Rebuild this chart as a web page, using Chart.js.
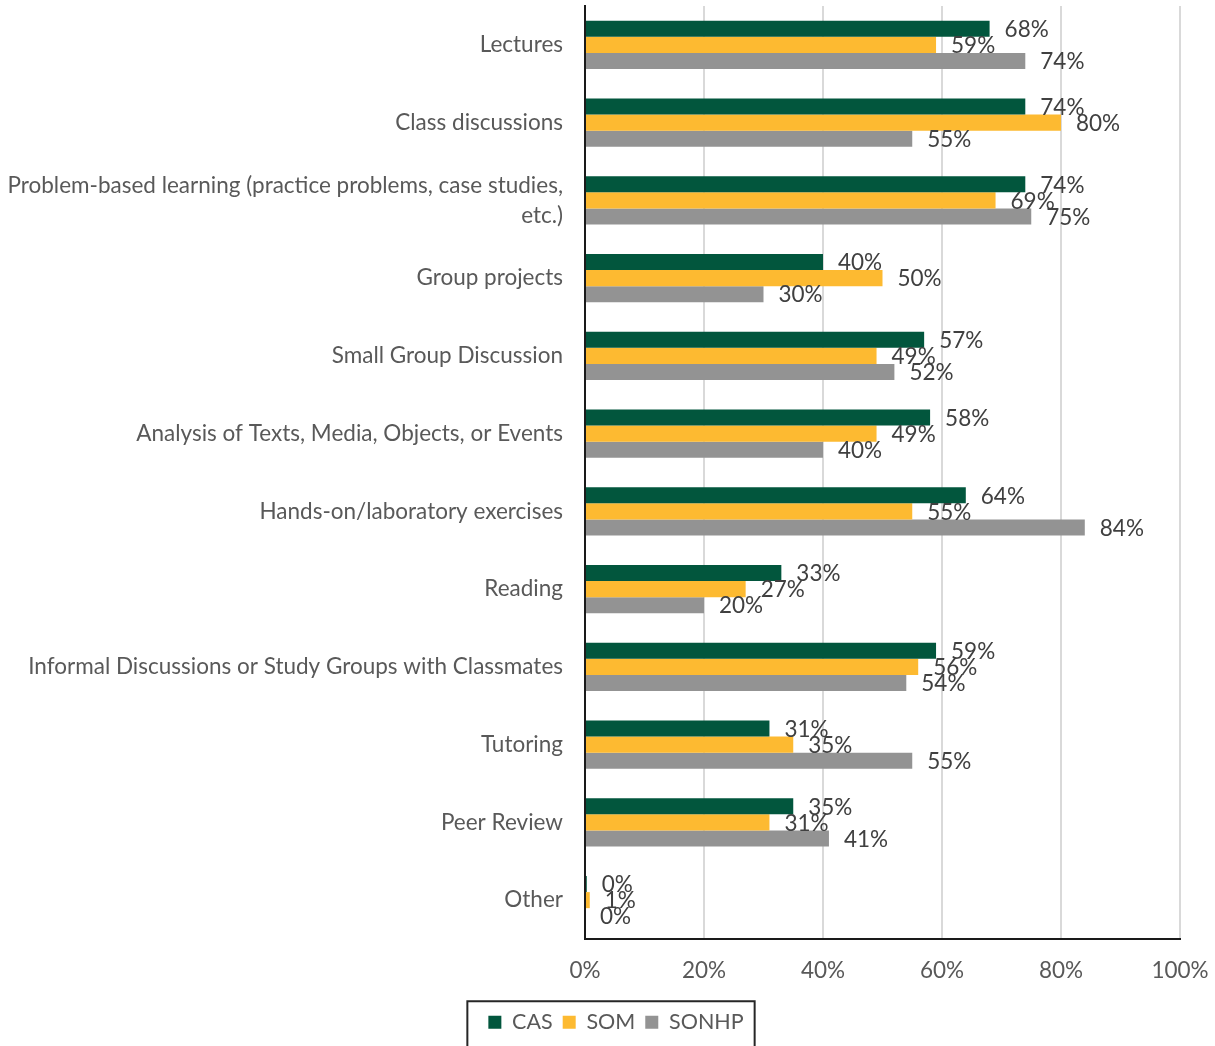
<!DOCTYPE html>
<html>
<head>
<meta charset="utf-8">
<title>Teaching methods by school</title>
<script src="https://cdn.jsdelivr.net/npm/chart.js@4/dist/chart.umd.min.js"></script>
<style>
    html, body { margin: 0; padding: 0; background: #fff; }
    #wrap { width: 1215px; height: 1046px; position: relative; }
</style>
</head>
<body>
<div id="wrap"><canvas id="methodsChart"></canvas></div>
<script>
// Categorias (eje vertical)
const categories = [
    'Lectures',
    'Class discussions',
    ['Problem-based learning (practice problems, case studies,', 'etc.)'],
    'Group projects',
    'Small Group Discussion',
    'Analysis of Texts, Media, Objects, or Events',
    'Hands-on/laboratory exercises',
    'Reading',
    'Informal Discussions or Study Groups with Classmates',
    'Tutoring',
    'Peer Review',
    'Other'
];

// Porcentajes por escuela
const casValues   = [68, 74, 74, 40, 57, 58, 64, 33, 59, 31, 35, 0.3];
const somValues   = [59, 80, 69, 50, 49, 49, 55, 27, 56, 35, 31, 0.8];
const sonhpValues = [74, 55, 75, 30, 52, 40, 84, 20, 54, 55, 41, 0];

const seriesNames = ['CAS', 'SOM', 'SONHP'];
const xTicks = [0, 20, 40, 60, 80, 100];

const FONT = 'Lato, "Open Sans", sans-serif';
const FONT_SIZE = 22.5;
const TEXT_COLOR = '#595959';
const LEGEND_SHIFT = 26; // desplaza la leyenda hacia el centro de la figura

// Etiquetas de valor al final de cada barra
const valueLabels = {
    id: 'valueLabels',
    afterDatasetsDraw(chart) {
        const ctx = chart.ctx;
        ctx.save();
        ctx.font = FONT_SIZE + 'px ' + FONT;
        ctx.fillStyle = '#404040';
        ctx.textAlign = 'left';
        ctx.textBaseline = 'middle';
        chart.data.datasets.forEach((ds, i) => {
            chart.getDatasetMeta(i).data.forEach((bar, j) => {
                ctx.fillText(Math.round(ds.data[j]) + '%', bar.x + 15, bar.y + 1);
            });
        });
        ctx.restore();
    }
};

// Mueve la leyenda y dibuja su marco
const legendFrame = {
    id: 'legendFrame',
    afterUpdate(chart) {
        const legend = chart.legend;
        legend.left += LEGEND_SHIFT;
        legend.right += LEGEND_SHIFT;
        legend.legendHitBoxes.forEach(h => { h.left += LEGEND_SHIFT; });
    },
    afterDraw(chart) {
        const boxes = chart.legend.legendHitBoxes;
        if (!boxes || !boxes.length) return;
        const first = boxes[0];
        const last = boxes[boxes.length - 1];
        const cy = first.top + first.height / 2;
        const ctx = chart.ctx;
        ctx.save();
        ctx.strokeStyle = '#262626';
        ctx.lineWidth = 2;
        ctx.strokeRect(first.left - 21, cy - 21, last.left + last.width - first.left + 32, 60);
        ctx.restore();
    }
};

const canvas = document.getElementById('methodsChart');
new Chart(canvas, {
    type: 'bar',
    data: {
        labels: categories,
        datasets: [
            { label: seriesNames[0], data: casValues,   backgroundColor: '#02563d' },
            { label: seriesNames[1], data: somValues,   backgroundColor: '#fdba31' },
            { label: seriesNames[2], data: sonhpValues, backgroundColor: '#939393' }
        ]
    },
    options: {
        indexAxis: 'y',
        responsive: true,
        maintainAspectRatio: false,
        animation: false,
        layout: { padding: { top: 6, right: 35, bottom: 3, left: 0 } },
        datasets: {
            bar: { categoryPercentage: 0.62, barPercentage: 1.0, borderWidth: 0 }
        },
        plugins: {
            tooltip: { enabled: false },
            legend: {
                position: 'bottom',
                labels: {
                    boxWidth: 13,
                    boxHeight: 13,
                    padding: 10,
                    color: TEXT_COLOR,
                    font: { family: FONT, size: 21.5 }
                }
            }
        },
        scales: {
            x: {
                min: 0,
                max: 100,
                afterBuildTicks(scale) {
                    scale.ticks = xTicks.map(v => ({ value: v }));
                },
                afterFit(scale) {
                    scale.height = scale.chart.height - 939 - scale.chart.legend.height - 3;
                    scale.paddingLeft = 0;
                    scale.paddingRight = 0;
                },
                ticks: {
                    padding: 18,
                    color: TEXT_COLOR,
                    font: { family: FONT, size: FONT_SIZE },
                    callback: v => v + '%'
                },
                grid: { color: '#d9d9d9', lineWidth: 2, drawTicks: false },
                border: { color: '#1a1a1a', width: 2 }
            },
            y: {
                afterFit(scale) {
                    scale.width = 585;
                    scale.paddingTop = 0;
                    scale.paddingBottom = 0;
                },
                ticks: {
                    padding: 22,
                    color: TEXT_COLOR,
                    font: { family: FONT, size: FONT_SIZE, lineHeight: 1.33 }
                },
                grid: { display: false, drawTicks: false },
                border: { color: '#1a1a1a', width: 2 }
            }
        }
    },
    plugins: [valueLabels, legendFrame]
});
</script>
</body>
</html>
